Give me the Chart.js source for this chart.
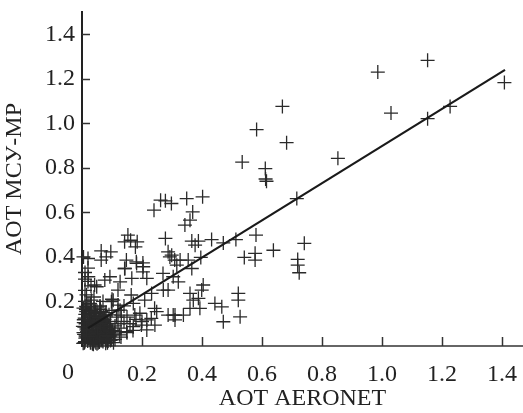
<!DOCTYPE html>
<html>
<head>
<meta charset="utf-8">
<script src="https://cdn.jsdelivr.net/npm/chart.js@4"></script>
<style>
html,body{margin:0;padding:0;background:#fff;}
#wrap{width:523px;height:413px;position:relative;}
</style>
</head>
<body>
<div id="wrap"><canvas id="c" width="523" height="413"></canvas></div>
<script>
const xTitle = "AOT AERONET";
const yTitle = "AOT МСУ-МР";
const tickValues = [0.2, 0.4, 0.6, 0.8, 1.0, 1.2, 1.4];
const originLabel = "0";

// AERONET AOT (x) of each observation
const aeronet = [
  0.986,1.152,1.030,1.152,1.227,1.408,0.853,
  0.668,0.582,0.682,0.534,0.611,0.612,0.615,
  0.349,0.402,0.716,0.262,0.278,0.298,0.240,
  0.369,0.360,0.343,
  0.366,0.388,0.377,0.432,0.471,0.513,0.580,0.638,0.741,
  0.541,0.577,0.577,0.719,0.719,0.724,
  0.396,0.299,0.327,0.354,0.316,
  0.366,0.321,0.404,0.399,0.360,0.388,0.371,0.393,0.360,0.443,0.466,0.521,0.521,0.527,0.471,0.310,0.310,0.338,
  0.153,0.142,0.162,0.184,0.178,0.278,0.064,0.081,0.096,0.064,0.020,0.287,0.309,0.148,0.181,0.203,
  0.143,0.182,0.204,0.021,0.049,0.093,0.127,0.166,0.216,0.232,0.271,0.304,0.293,
  0.027,0.060,0.104,0.127,0.171,0.193,0.216,0.249,0.304,0.216,0.243,0.149,0.171,
  0.142,0.203,0.270,0.287,0.242,0.287,0.042,0.076,0.120,0.164,0.031,0.098,0.209,0.231,0.198,0.176,0.131,0.120,
  0.010,0.020,0.030,0.015,0.025,0.040,0.050,0.035,0.060,0.045,0.070,0.055,0.080,0.065,0.075,0.090,0.085,0.020,
  0.030,0.050,0.010,0.005,0.012,0.040,0.060,0.070,0.100,0.095,0.110,0.105,0.120,0.115,0.130,0.125,0.140,0.035,
  0.045,0.055,0.065,0.025,0.015,0.008,0.030,0.040,0.060,0.080,0.090,0.100,0.020,0.005,0.050,0.070,0.090,0.080,
  0.110,0.130,0.150,0.160,0.170,0.150,0.180,0.200,0.120,0.140,0.100,0.070,0.040,0.015,0.030,0.010,0.020,0.005,
  0.010,0.010,0.020,0.010,0.055,0.085,0.035,0.075,0.105,0.045,0.065,0.095,
  0.012,0.022,0.033,0.043,0.052,0.062,0.072,0.018,0.028,0.038,0.048,0.058,0.068,0.078,0.088,0.008,0.024,0.036,
  0.046,0.056,0.066,0.082,0.014,0.027,0.041,0.053,0.063,0.074,0.086,0.011,0.032,0.044,0.057,0.069,0.079,0.092,
  0.017,0.029,0.039,0.051,0.061,0.071,0.006,0.021,0.034,0.047,0.059,0.073,0.083,0.097,0.026,0.042,0.067,0.013,
  0.016,0.031,0.049,0.064,0.077,0.094,0.009,0.037,0.054,0.081,0.023,0.044,0.071,0.102,
  0.004,0.019,0.038,0.058,0.079,0.099,0.007,0.026,0.046,0.066,0.087,0.003,0.015,0.033,0.052,0.074,0.093,0.011,
  0.029,0.048,0.068,0.089,0.108,0.006,0.024,0.043,0.062,0.083,0.014,0.036,0.056,0.077
];
// MSU-MR AOT (y) of each observation
const msumr = [
  1.230,1.283,1.046,1.021,1.076,1.183,0.843,
  1.076,0.972,0.913,0.826,0.797,0.750,0.740,
  0.662,0.670,0.662,0.655,0.652,0.640,0.610,
  0.602,0.565,0.543,
  0.471,0.471,0.453,0.478,0.463,0.478,0.498,0.430,0.461,
  0.398,0.416,0.386,0.389,0.363,0.329,
  0.398,0.408,0.386,0.386,0.363,
  0.348,0.288,0.274,0.251,0.236,0.214,0.206,0.169,0.169,0.191,0.176,0.236,0.206,0.131,0.109,0.139,0.117,0.139,
  0.498,0.468,0.475,0.468,0.445,0.483,0.427,0.400,0.423,0.386,0.393,0.423,0.386,0.386,0.378,0.373,
  0.348,0.371,0.356,0.311,0.266,0.311,0.288,0.304,0.304,0.236,0.251,0.311,0.400,
  0.191,0.176,0.206,0.161,0.191,0.147,0.117,0.154,0.139,0.072,0.094,0.064,0.087,
  0.348,0.333,0.326,0.251,0.169,0.139,0.274,0.296,0.251,0.229,0.206,0.199,0.206,0.124,0.094,0.139,0.139,0.184,
  0.020,0.050,0.030,0.080,0.110,0.060,0.040,0.090,0.070,0.120,0.050,0.100,0.080,0.030,0.120,0.060,0.100,0.140,
  0.160,0.150,0.120,0.060,0.100,0.020,0.130,0.090,0.070,0.110,0.090,0.050,0.100,0.130,0.080,0.050,0.110,0.040,
  0.070,0.050,0.110,0.070,0.040,0.015,0.130,0.170,0.180,0.150,0.140,0.160,0.190,0.170,0.010,0.020,0.030,0.040,
  0.030,0.040,0.060,0.100,0.070,0.130,0.120,0.110,0.160,0.180,0.210,0.200,0.220,0.230,0.270,0.300,0.350,0.400,
  0.330,0.250,0.290,0.200,0.025,0.015,0.010,0.065,0.015,0.035,0.085,0.025,
  0.045,0.035,0.065,0.025,0.075,0.045,0.085,0.105,0.015,0.055,0.095,0.125,0.035,0.065,0.045,0.085,0.135,0.105,
  0.015,0.095,0.055,0.075,0.155,0.025,0.115,0.045,0.025,0.105,0.065,0.035,0.075,0.145,0.125,0.095,0.055,0.085,
  0.065,0.185,0.055,0.035,0.165,0.115,0.105,0.075,0.015,0.085,0.135,0.055,0.045,0.065,0.095,0.115,0.025,0.165,
  0.175,0.145,0.125,0.155,0.035,0.045,0.125,0.115,0.015,0.025,0.055,0.155,0.135,0.065,
  0.012,0.022,0.008,0.018,0.012,0.028,0.052,0.042,0.062,0.032,0.022,0.088,0.072,0.098,0.082,0.092,0.068,0.142,
  0.112,0.132,0.122,0.042,0.058,0.118,0.148,0.152,0.102,0.048,0.178,0.108,0.128,0.138
];
// regression line end points
const fitX = [0.02, 1.41];
const fitY = [0.08, 1.24];

const points = aeronet.map((v, i) => ({x: v, y: msumr[i]}));
const fitLine = fitX.map((v, i) => ({x: v, y: fitY[i]}));

const FONT = "'Liberation Serif', 'Times New Roman', serif";

const inwardTicks = {
  id: 'inwardTicks',
  afterDraw(chart) {
    const ctx = chart.ctx;
    const xs = chart.scales.x, ys = chart.scales.y;
    const area = chart.chartArea;
    ctx.save();
    ctx.lineWidth = 1.5;
    ctx.strokeStyle = '#333';
    tickValues.forEach(v => {
      const px = Math.round(xs.getPixelForValue(v)) + 0.5;
      ctx.beginPath();
      ctx.moveTo(px, area.bottom);
      ctx.lineTo(px, area.bottom - 9);
      ctx.stroke();
      const py = Math.round(ys.getPixelForValue(v)) + 0.5;
      ctx.beginPath();
      ctx.moveTo(area.left, py);
      ctx.lineTo(area.left + 8, py);
      ctx.stroke();
    });
    ctx.fillStyle = '#222';
    ctx.font = "24px " + FONT;
    ctx.textAlign = 'center';
    ctx.textBaseline = 'middle';
    ctx.fillText(originLabel, xs.getPixelForValue(0) - 14, area.bottom + 27);
    ctx.restore();
  }
};

function draw() {
  new Chart(document.getElementById('c'), {
    type: 'scatter',
    data: {
      datasets: [
        {
          data: points,
          pointStyle: 'cross',
          pointRadius: 7,
          pointBorderWidth: 1.3,
          borderColor: '#2a2a2a',
          backgroundColor: '#2a2a2a',
          clip: false,
          order: 2
        },
        {
          type: 'line',
          data: fitLine,
          showLine: true,
          borderColor: '#1a1a1a',
          borderWidth: 2.2,
          pointRadius: 0,
          fill: false,
          order: 1
        }
      ]
    },
    options: {
      responsive: false,
      animation: false,
      devicePixelRatio: 1,
      layout: {autoPadding: false, padding: {top: 12, right: 0, left: 0, bottom: 0}},
      plugins: {legend: {display: false}, tooltip: {enabled: false}},
      scales: {
        x: {
          type: 'linear',
          min: 0, max: 1.47,
          afterFit(s) { s.height = 67; s.paddingLeft = 0; s.paddingRight = 0; },
          afterBuildTicks(s) { s.ticks = tickValues.map(v => ({value: v})); },
          grid: {display: false, drawTicks: false},
          border: {display: true, color: '#666', width: 2},
          ticks: {
            color: '#222',
            padding: 14,
            maxRotation: 0,
            font: {family: FONT, size: 24},
            callback: v => v.toFixed(1)
          },
          title: {
            display: true, text: xTitle, color: '#222',
            font: {family: FONT, size: 24},
            padding: {top: 0, bottom: 0}
          }
        },
        y: {
          type: 'linear',
          min: 0, max: 1.5,
          afterFit(s) { s.width = 82; s.paddingTop = 0; s.paddingBottom = 0; },
          afterBuildTicks(s) { s.ticks = tickValues.map(v => ({value: v})); },
          grid: {display: false, drawTicks: false},
          border: {display: true, color: '#222', width: 2},
          ticks: {
            color: '#222',
            padding: 7,
            font: {family: FONT, size: 24},
            callback: v => v.toFixed(1)
          },
          title: {
            display: true, text: yTitle, color: '#222',
            font: {family: FONT, size: 24},
            padding: {top: 0, bottom: 0}
          }
        }
      }
    },
    plugins: [inwardTicks]
  });
}

if (document.fonts && document.fonts.load) {
  document.fonts.load("24px 'Liberation Serif'").then(draw, draw);
} else {
  draw();
}
</script>
</body>
</html>
